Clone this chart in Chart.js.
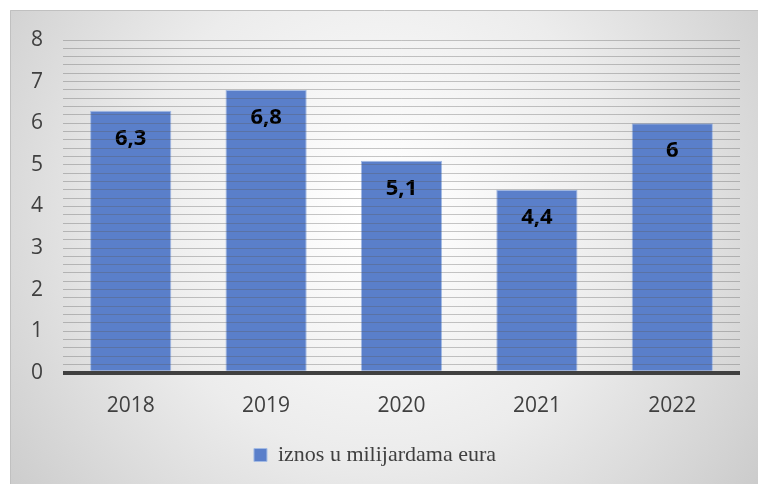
<!DOCTYPE html>
<html>
<head>
<meta charset="utf-8">
<script src="https://cdn.jsdelivr.net/npm/chart.js@4.4.0/dist/chart.umd.min.js"></script>
<style>
  html, body { margin: 0; padding: 0; background: #fff; }
  #wrap { width: 758px; height: 484px; }
</style>
</head>
<body>
<div id="wrap"><canvas id="chart" width="758" height="484"></canvas></div>
<script>
// iznos u milijardama eura po godinama
const godine = ['2018', '2019', '2020', '2021', '2022'];
const iznosi = [6.3, 6.8, 5.1, 4.4, 6];
const nazivSerije = 'iznos u milijardama eura';

// siva pozadina s blagim gradijentom, kao u Excelu
const pozadina = {
  id: 'pozadina',
  beforeDraw(chart) {
    const ctx = chart.ctx;
    ctx.save();
    const g = ctx.createRadialGradient(380, 210, 20, 380, 210, 520);
    g.addColorStop(0, '#ffffff');
    g.addColorStop(0.45, '#ececec');
    g.addColorStop(1, '#c4c4c4');
    ctx.fillStyle = g;
    ctx.fillRect(10, 10, chart.width - 10, chart.height - 10);
    ctx.strokeStyle = '#c0c0c0';
    ctx.lineWidth = 1;
    ctx.beginPath();
    ctx.moveTo(10.5, chart.height);
    ctx.lineTo(10.5, 10.5);
    ctx.lineTo(chart.width, 10.5);
    ctx.stroke();
    ctx.restore();
  }
};

// vrijednosti unutar stupaca
const oznake = {
  id: 'oznake',
  afterDatasetsDraw(chart) {
    const ctx = chart.ctx;
    const meta = chart.getDatasetMeta(0);
    ctx.save();
    ctx.font = 'bold 22px "Open Sans", sans-serif';
    ctx.fillStyle = '#000';
    ctx.textAlign = 'center';
    ctx.textBaseline = 'middle';
    meta.data.forEach((bar, i) => {
      const txt = String(iznosi[i]).replace('.', ',');
      ctx.fillText(txt, bar.x, bar.y + 28);
    });
    ctx.restore();
  }
};

new Chart(document.getElementById('chart'), {
  type: 'bar',
  data: {
    labels: godine,
    datasets: [{
      label: nazivSerije,
      data: iznosi,
      backgroundColor: '#5a7fca',
      borderColor: '#a4bbe4',
      borderWidth: 1,
      barPercentage: 0.6,
      categoryPercentage: 1
    }]
  },
  options: {
    responsive: false,
    animation: false,
    layout: { padding: { left: 10, right: 18, top: 40, bottom: 8 } },
    plugins: {
      tooltip: { enabled: false },
      legend: {
        position: 'bottom',
        labels: {
          boxWidth: 13,
          boxHeight: 13,
          padding: 7,
          color: '#404040',
          font: { family: '"Liberation Serif", serif', size: 22 }
        }
      }
    },
    scales: {
      x: {
        afterFit(scale) { scale.height += 5; },
        grid: { display: false },
        border: { display: false },
        ticks: {
          color: '#404040',
          padding: 13,
          font: { family: '"Open Sans", sans-serif', size: 21 }
        }
      },
      y: {
        min: 0,
        max: 8,
        afterFit(scale) { scale.width = 53; },
        border: { display: false },
        grid: {
          z: 1,
          drawTicks: false,
          color: c => c.tick.value === 0 ? '#404040' : 'rgba(90,90,90,0.34)',
          lineWidth: c => c.tick.value === 0 ? 4 : 1
        },
        ticks: {
          stepSize: 0.2,
          autoSkip: false,
          padding: 20,
          color: '#404040',
          font: { family: '"Open Sans", sans-serif', size: 21 },
          callback: v => Math.abs(v - Math.round(v)) < 0.001 ? String(Math.round(v)) : ''
        }
      }
    }
  },
  plugins: [pozadina, oznake]
});
</script>
</body>
</html>
